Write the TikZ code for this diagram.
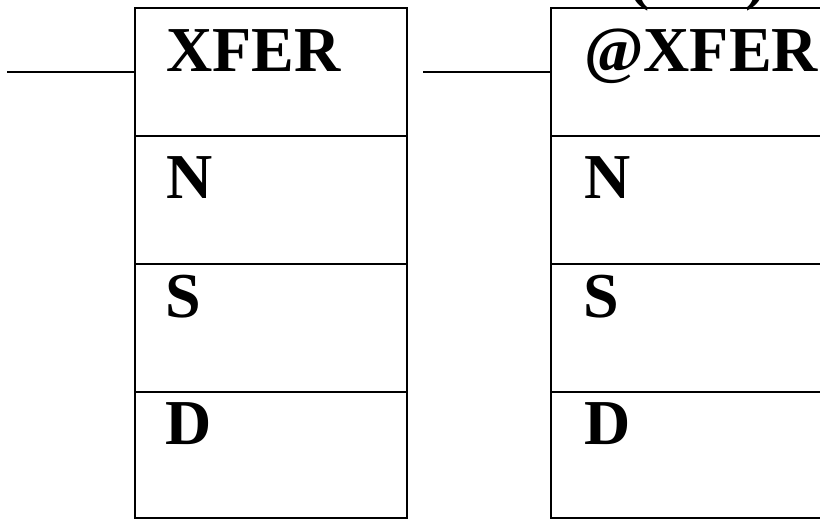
\documentclass[tikz,border=0pt]{standalone}
\usepackage{fontspec}
\setmainfont{Liberation Serif}
\usetikzlibrary{positioning}

\begin{document}
\begin{tikzpicture}[
  x=1pt, y=-1pt,
  cell/.style={rectangle, draw=black, line width=2pt, inner sep=0pt,
               outer sep=0pt, minimum width=272pt, minimum height=128pt},
  lbl/.style={font=\fontsize{64}{64}\selectfont\bfseries, inner sep=0pt,
              anchor=base west},
  wire/.style={line width=2pt}
]
\useasboundingbox (0,0) rectangle (820,520);
\clip (0,0) rectangle (820,520);

% left block
\node[cell] (l1) at (271,72)  {};
\node[cell, below=0pt of l1] (l2) {};
\node[cell, below=0pt of l2] (l3) {};
\node[cell, below=0pt of l3, minimum height=126pt] (l4) {};

% right block
\node[cell] (r1) at (687,72) {};
\node[cell, below=0pt of r1] (r2) {};
\node[cell, below=0pt of r2] (r3) {};
\node[cell, below=0pt of r3, minimum height=126pt] (r4) {};

\node[lbl] (lt) at ([xshift=31pt,yshift=-63pt]l1.north west) {XFER};
\node[lbl] (ln) at ([xshift=31pt,yshift=-62pt]l2.north west) {N};
\node[lbl] (ls) at ([xshift=30pt,yshift=-53pt]l3.north west) {S};
\node[lbl] (ld) at ([xshift=30pt,yshift=-52pt]l4.north west) {D};

\node[lbl] (rt) at ([xshift=33pt,yshift=-63pt]r1.north west) {@XFER};
\node[lbl] (rn) at ([xshift=33pt,yshift=-62pt]r2.north west) {N};
\node[lbl] (rs) at ([xshift=32pt,yshift=-53pt]r3.north west) {S};
\node[lbl] (rd) at ([xshift=33pt,yshift=-52pt]r4.north west) {D};

% partly hidden text above the right block
\node[lbl] (rp) at (628,-3) {(\hspace{96pt})};

% input wires
\coordinate (lin) at (7,72);
\coordinate (rin) at (423,72);
\draw[wire] (lin) -- (l1.west);
\draw[wire] (rin) -- (r1.west);
\end{tikzpicture}
\end{document}
